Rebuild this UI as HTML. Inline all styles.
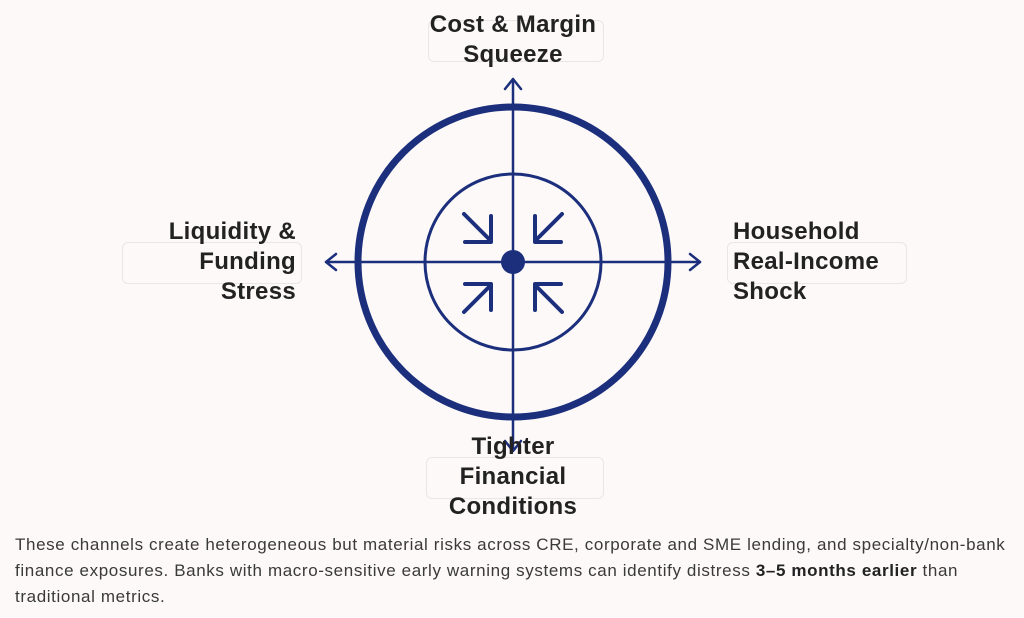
<!DOCTYPE html>
<html><head><meta charset="utf-8"><style>
body{margin:0;width:1024px;height:618px;background:#fcf9f8;overflow:hidden;position:relative;font-family:"Liberation Sans",sans-serif}
.box{position:absolute;border:1px solid #ebe6e6;border-radius:6px;background:#fcf9f8}
.lab{position:absolute;font-weight:bold;font-size:24px;letter-spacing:0.3px;line-height:30px;color:#222}
p{position:absolute;left:15px;top:532px;margin:0;width:1020px;font-size:17px;line-height:26px;color:#3a3a3a;letter-spacing:0.62px;white-space:nowrap}
</style></head><body>
<div class="box" style="left:428px;top:20px;width:174px;height:40px"></div>
<div class="box" style="left:122px;top:242px;width:178px;height:40px"></div>
<div class="box" style="left:727px;top:242px;width:178px;height:40px"></div>
<div class="box" style="left:426px;top:457px;width:176px;height:40px"></div>
<svg width="1024" height="618" style="position:absolute;left:0;top:0">
<g stroke="#1c2f7d" fill="none" stroke-linecap="round" stroke-linejoin="round">
<circle cx="513" cy="262" r="155" stroke-width="7"/>
<circle cx="513" cy="262" r="88" stroke-width="3"/>
<line x1="513" y1="80" x2="513" y2="450" stroke-width="2.5"/>
<line x1="326" y1="262" x2="700" y2="262" stroke-width="2.5"/>
<polyline points="505,89 513,79 521,89" stroke-width="2.5"/>
<polyline points="336,254 326,262 336,270" stroke-width="2.5"/>
<polyline points="690,254 700,262 690,270" stroke-width="2.5"/>
<polyline points="505,441 513,451 521,441" stroke-width="2.5"/>
<g stroke-width="4">
<line x1="464" y1="214" x2="490" y2="240"/><polyline points="491,216 491,242 465,242"/>
<line x1="562" y1="214" x2="536" y2="240"/><polyline points="535,216 535,242 561,242"/>
<line x1="464" y1="312" x2="490" y2="286"/><polyline points="491,310 491,284 465,284"/>
<line x1="562" y1="312" x2="536" y2="286"/><polyline points="535,310 535,284 561,284"/>
</g>
</g>
<circle cx="513" cy="262" r="12" fill="#1c2f7d"/>
</svg>
<div class="lab" style="left:390px;width:246px;top:10px;text-align:center">Cost &amp; Margin<br>Squeeze</div>
<div class="lab" style="left:76px;width:220px;top:217px;text-align:right">Liquidity &amp;<br>Funding<br>Stress</div>
<div class="lab" style="left:733px;width:220px;top:217px">Household<br>Real-Income<br>Shock</div>
<div class="lab" style="left:390px;width:246px;top:432px;text-align:center">Tighter<br>Financial<br>Conditions</div>
<p>These channels create heterogeneous but material risks across CRE, corporate and SME lending, and specialty/non-bank<br>finance exposures. Banks with macro-sensitive early warning systems can identify distress <b style="color:#222">3–5 months earlier</b> than<br>traditional metrics.</p>
</body></html>
